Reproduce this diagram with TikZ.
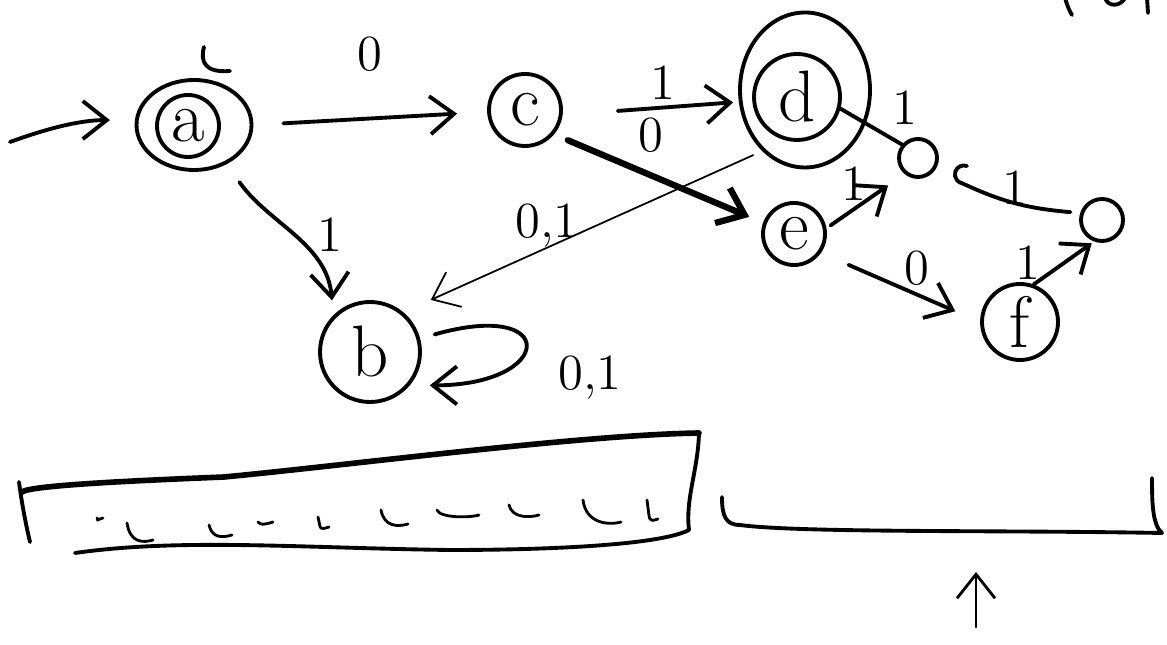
\documentclass[tikz,border=0pt]{standalone}
\usepackage{tikz}
\usetikzlibrary{shapes.geometric, arrows.meta, calc}

\begin{document}
\begin{tikzpicture}[line width=1.1pt, line cap=round, line join=round,
    state/.style={circle, draw, inner sep=0pt, font=\huge},
    ring/.style={ellipse, draw, inner sep=0pt},
    lbl/.style={font=\Large, inner sep=2pt},
    edge/.style={->, >={Straight Barb[length=2.4mm, width=3.8mm]}}]
    \useasboundingbox (0,0) rectangle (11.67,-6.45);
    % states
    \node[state, minimum size=0.62cm] (a) at (1.88,-1.26) {a};
    \node[ring, minimum width=1.15cm, minimum height=0.9cm] (aring) at (1.94,-1.25) {};
    \node[state, minimum size=0.72cm] (c) at (5.25,-1.10) {c};
    \node[state, minimum size=0.86cm] (d) at (7.97,-0.97) {d};
    \node[ring, minimum width=1.3cm, minimum height=1.55cm] (dring) at (8.05,-0.90) {};
    \node[state, minimum size=0.62cm] (e) at (7.94,-2.34) {e};
    \node[state, minimum size=0.76cm] (f) at (10.20,-3.22) {f};
    \node[state, minimum size=1.0cm] (b) at (3.70,-3.52) {b};
    \node[state, minimum size=0.38cm] (g) at (9.18,-1.58) {};
    \node[state, minimum size=0.42cm] (h) at (11.02,-2.20) {};
    \coordinate (start) at (0.10,-1.42);
    \draw (2.04,-0.47) .. controls (2.00,-0.62) and (2.05,-0.73) .. (2.30,-0.71);

    % transitions
    \draw[edge, shorten >=0.25cm] (start) to[bend left=10] (aring);
    \draw[edge, shorten <=0.3cm, shorten >=0.3cm] (aring.east) -- ([yshift=-0.02cm]c.west)
        node[lbl, midway, above=0.38cm] (l0ac) {0};
    \draw[edge, shorten <=0.22cm, shorten >=0.15cm] (aring.-50) to[out=-55, in=95]
        node[lbl, midway, right=0.15cm] (l1ab) {1} (b.135);
    \draw[edge, shorten <=0.55cm, shorten >=0.05cm] ([yshift=-0.05cm]c.east) -- ([yshift=-0.12cm]dring.west)
        node[lbl, midway, above, xshift=0.12cm] (l1cd) {1}
        node[lbl, midway, below] (l0cd) {0};
    \draw[edge, line width=1.8pt, shorten <=0.15cm, shorten >=0.15cm] (c.-40) -- (e.160);
    \draw[edge, line width=0.5pt, shorten <=0.1cm, shorten >=0.3cm] (dring.-125) -- (b.50)
        node[lbl, pos=0.6, above=-2pt] (l01db) {0,1};
    \draw[edge, shorten <=0.15cm, shorten >=0.2cm] (b.15) .. controls +(1.4,0.4) and +(1.45,0) .. (b.-40);
    \node[lbl] (l01bb) at (5.90,-3.78) {0,1};
    \draw (d.-15) -- (g.140) node[lbl, pos=0.7, above right] (l1dg) {1};
    \draw ([shift={(0.28,-0.08)}]g.east) arc[start angle=70, end angle=260, radius=0.09]
        to[bend right=10] node[lbl, midway, above=-3pt] (l1gh) {1} ([xshift=-0.1cm]h.160);
    \draw[edge, shorten <=0.05cm, shorten >=0.2cm] (e.10) -- (g.-130)
        node[lbl, pos=0.35, above] (l1eg) {1};
    \draw[edge, shorten <=0.3cm, shorten >=0.27cm] (e.-35) -- (f.west)
        node[lbl, pos=0.6, above] (l0ef) {0};
    \draw[edge, shorten >=0.03cm] (f.70) -- (h.-110)
        node[lbl, midway, left=0.15cm] (l1fh) {1};

    % top right (cut off)
    \draw (10.65,0.02) .. controls (10.68,-0.08) and (10.70,-0.12) .. (10.72,-0.15);
    \draw (11.05,0.02) .. controls (11.08,-0.07) and (11.20,-0.07) .. (11.25,0.02);
    \draw (11.47,0.02) -- (11.48,-0.13);

    % tape
    \draw (0.19,-4.82) .. controls (0.22,-5.05) and (0.26,-5.25) .. (0.30,-5.42);
    \draw[line width=1.6pt] (0.22,-4.92) .. controls (0.3,-4.85) and (1.5,-4.80) .. (2.24,-4.77)
        .. controls (3.5,-4.65) and (5.8,-4.35) .. (6.99,-4.33);
    \draw (6.99,-4.33) .. controls (6.98,-4.7) and (6.85,-5.0) .. (6.89,-5.30)
        .. controls (6.6,-5.45) and (5.5,-5.50) .. (4.5,-5.50)
        .. controls (3.0,-5.48) and (1.8,-5.38) .. (0.75,-5.53);
    \foreach \x/\y/\w/\h in {0.97/5.18/0.06/0.03, 1.27/5.23/0.26/0.2, 2.09/5.25/0.23/0.13,
        2.58/5.22/0.15/0.03, 3.18/5.17/0.11/0.13, 3.81/5.10/0.27/0.17, 4.37/5.10/0.42/0.08,
        5.09/5.05/0.30/0.13, 5.83/5.00/0.38/0.25, 6.47/5.00/0.11/0.22}
        \draw[line width=0.8pt] (\x,-\y) .. controls +(0.03,-\h) and +(-0.1,-0.03) .. +(\w,-\h+0.03);
    \draw (7.22,-4.97) .. controls (7.22,-5.15) and (7.25,-5.25) .. (7.40,-5.25)
        .. controls (8.0,-5.33) and (10.0,-5.30) .. (11.62,-5.33)
        .. controls (11.52,-5.25) and (11.52,-5.0) .. (11.52,-4.78);
    \coordinate (ptrlow) at (9.76,-6.27);
    \coordinate (ptrup) at (9.76,-5.72);
    \draw[edge, line width=0.8pt] (ptrlow) -- (ptrup);
\end{tikzpicture}
\end{document}
